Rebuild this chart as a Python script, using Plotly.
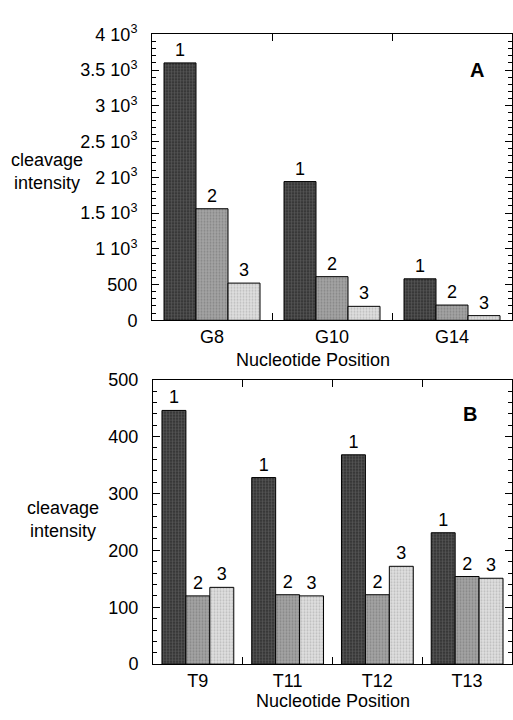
import plotly.graph_objects as go

# ---- data ----
top_categories = ["G8", "G10", "G14"]
top_s1 = [3600, 1940, 580]
top_s2 = [1560, 610, 213]
top_s3 = [520, 195, 65]

bot_categories = ["T9", "T11", "T12", "T13"]
bot_s1 = [446, 328, 368, 231]
bot_s2 = [120, 122, 122, 154]
bot_s3 = [135, 120, 172, 151]

series_names = ["1", "2", "3"]
top_yticks = [0, 500, 1000, 1500, 2000, 2500, 3000, 3500, 4000]
top_yticktext = ["0", "500", "1 10<sup>3</sup>", "1.5 10<sup>3</sup>", "2 10<sup>3</sup>",
                 "2.5 10<sup>3</sup>", "3 10<sup>3</sup>", "3.5 10<sup>3</sup>", "4 10<sup>3</sup>"]
bot_yticks = [0, 100, 200, 300, 400, 500]

W, H = 513, 720
FONT = "Liberation Sans, Arial, Helvetica, sans-serif"
FS = 18

def px(x):
    return x / W

def py(y):
    return 1 - y / H

styles = [
    dict(color="#383838", pattern=dict(shape="+", fgcolor="#8a8a8a", size=3, solidity=0.3, fillmode="overlay")),
    dict(color="#a4a4a4", pattern=dict(shape=".", fgcolor="#666666", size=3, solidity=0.35, fillmode="overlay")),
    dict(color="#e0e0e0", pattern=dict(shape=".", fgcolor="#969696", size=3, solidity=0.35, fillmode="overlay")),
]

fig = go.Figure()
for name, vals, st in zip(series_names, [top_s1, top_s2, top_s3], styles):
    fig.add_trace(go.Bar(
        x=top_categories, y=vals, name=name, text=[name] * len(vals),
        textposition="outside", textfont=dict(size=FS, color="black", family=FONT),
        marker=dict(color=st["color"], pattern=st["pattern"], line=dict(color="black", width=1)),
        xaxis="x", yaxis="y", cliponaxis=False, showlegend=False,
    ))
for name, vals, st in zip(series_names, [bot_s1, bot_s2, bot_s3], styles):
    fig.add_trace(go.Bar(
        x=bot_categories, y=vals, name=name, text=[name] * len(vals),
        textposition="outside", textfont=dict(size=FS, color="black", family=FONT),
        marker=dict(color=st["color"], pattern=st["pattern"], line=dict(color="black", width=1)),
        xaxis="x2", yaxis="y2", cliponaxis=False, showlegend=False,
    ))

top_xdom = [px(152), px(512)]
top_ydom = [py(318), py(23)]
bot_xdom = [px(153), px(512)]
bot_ydom = [py(672.7), py(379.3)]

axis_common = dict(showline=True, linecolor="black", linewidth=1, mirror="allticks",
                   showgrid=False, zeroline=False, ticks="inside", tickcolor="black",
                   tickfont=dict(size=FS, color="black", family=FONT))

fig.update_layout(
    width=W, height=H, margin=dict(l=0, r=0, t=0, b=0),
    paper_bgcolor="white", plot_bgcolor="white",
    barmode="group", bargroupgap=0, bargap=0.2,
    font=dict(family=FONT, color="black"),
    uniformtext=dict(minsize=FS, mode="show"),
    xaxis=dict(domain=top_xdom, anchor="y", type="category", range=[-0.5, 2.5],
               tickson="boundaries", ticklen=7, ticklabelstandoff=0, **axis_common),
    yaxis=dict(domain=top_ydom, anchor="x", range=[0, 4000],
               tickvals=top_yticks, ticktext=top_yticktext, ticklen=7, ticklabelstandoff=10,
               minor=dict(dtick=100, tick0=0, ticks="inside", ticklen=4, tickcolor="black"),
               **axis_common),
    xaxis2=dict(domain=bot_xdom, anchor="y2", type="category", range=[-0.5, 3.5],
                tickson="boundaries", ticklen=7, ticklabelstandoff=0, **axis_common),
    yaxis2=dict(domain=bot_ydom, anchor="x2", range=[0, 500],
                tickvals=bot_yticks, ticklen=7, ticklabelstandoff=10,
                minor=dict(dtick=20, tick0=0, ticks="inside", ticklen=4, tickcolor="black"),
                **axis_common),
    xaxis3=dict(overlaying="x", anchor="y", range=[-0.5, 2.5], showticklabels=False,
                showline=False, showgrid=False, zeroline=False, ticks="", mirror="allticks",
                minor=dict(dtick=0.1, tick0=-0.5, ticks="inside", ticklen=4, tickcolor="black")),
    xaxis4=dict(overlaying="x2", anchor="y2", range=[-0.5, 3.5], showticklabels=False,
                showline=False, showgrid=False, zeroline=False, ticks="", mirror="allticks",
                minor=dict(dtick=0.125, tick0=-0.5, ticks="inside", ticklen=4, tickcolor="black")),
)

ann_font = dict(size=FS, color="black", family=FONT)
def note(x, y, text, font=ann_font):
    fig.add_annotation(x=px(x), y=py(y), xref="paper", yref="paper", text=text,
                       showarrow=False, font=font, align="center",
                       xanchor="center", yanchor="middle")

note(47, 165, "cleavage<br>intensity")
note(63, 523, "cleavage<br>intensity")
note(313, 359, "Nucleotide Position")
note(333, 711, "Nucleotide Position")
note(477, 60, "<b>A</b>", dict(size=20, color="black", family=FONT))
note(470, 415, "<b>B</b>", dict(size=20, color="black", family=FONT))

fig.write_html("out.html")
